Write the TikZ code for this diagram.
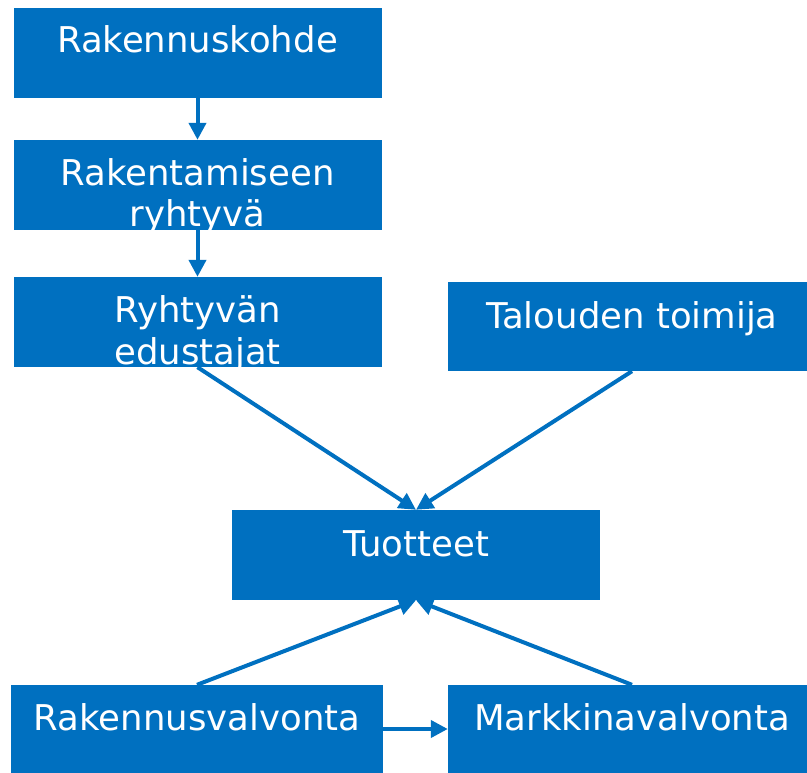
\documentclass[tikz,border=0pt]{standalone}
\usepackage{fontspec}
\setmainfont{DejaVu Sans}
\usetikzlibrary{arrows.meta}
\definecolor{boxblue}{HTML}{0070C0}
\begin{document}
\begin{tikzpicture}[x=1pt,y=-1pt,
  box/.style={fill=boxblue, draw=none, inner sep=0pt, minimum width=368pt, minimum height=90pt},
  txt/.style={text=white, font=\fontsize{35.5}{42}\selectfont, align=center, anchor=base, inner sep=0pt},
  arr/.style={draw=boxblue, line width=4pt, -{Triangle[length=17pt,width=17pt]}}]
\useasboundingbox (0,0) rectangle (807,773);
\clip (0,0) rectangle (807,773);
% boxes
\node[box] (b1) at (197.5,53) {};
\node[box] (b2) at (197.5,185) {};
\node[box] (b3) at (197.5,322) {};
\node[box, minimum height=89pt] (ta) at (632,326.5) {};
\node[box] (tu) at (416,555) {};
\node[box, minimum width=372pt, minimum height=88pt] (rv) at (197,729) {};
\node[box, minimum height=88pt] (mv) at (632,729) {};
% texts
\node[txt] (t1) at (197.5,53) {Rakennuskohde};
\node[txt] (t2) at (197.5,227) {Rakentamiseen\\ryhtyvä};
\node[txt] (t3) at (197.5,364) {Ryhtyvän\\edustajat};
\node[txt] (t4) at (632,328) {Talouden toimija};
\node[txt] (t5) at (416,556) {Tuotteet};
\node[txt] (t6) at (197,730) {Rakennusvalvonta};
\node[txt] (t7) at (632,730) {Markkinavalvonta};
% connectors
\draw[arr] (b1.south) -- (b2.north);
\draw[arr] (b2.south) -- (b3.north);
\draw[arr] (b3.south) -- (tu.north);
\draw[arr] (ta.south) -- (tu.north);
\draw[arr] (rv.north) -- (tu.south);
\draw[arr] (mv.north) -- (tu.south);
\draw[arr] (rv.east) -- (mv.west);
\end{tikzpicture}
\end{document}
